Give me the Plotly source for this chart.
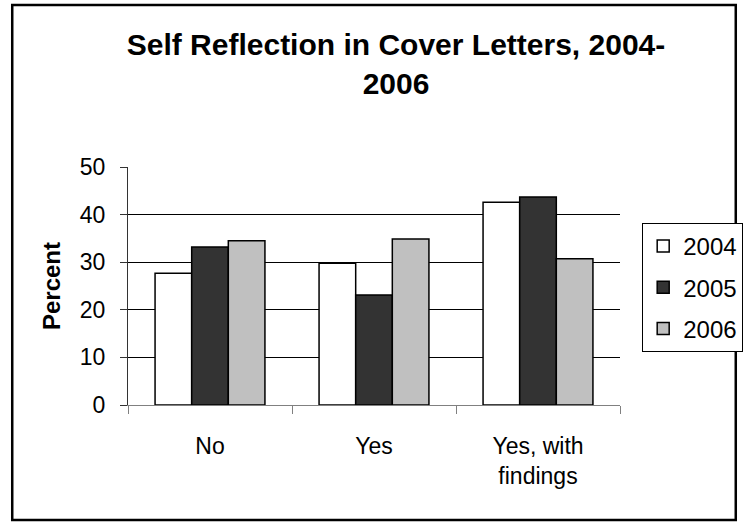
import plotly.graph_objects as go

# Data
categories = ["No", "Yes", "Yes, with findings"]
tick_labels = ["No", "Yes", "Yes, with<br>findings"]
years = ["2004", "2005", "2006"]
pct_2004 = [27.7, 29.8, 42.6]
pct_2005 = [33.2, 23.1, 43.7]
pct_2006 = [34.5, 34.9, 30.7]
y_ticks = [0, 10, 20, 30, 40, 50]

series = [pct_2004, pct_2005, pct_2006]
fills = ["#FFFFFF", "#333333", "#C0C0C0"]

FONT = "Liberation Sans, Arial, sans-serif"
W, H = 755, 523
L, R, T, B = 128, 117, 167, 118
PW, PH = W - L - R, H - T - B

fig = go.Figure()
for name, vals, col in zip(years, series, fills):
    fig.add_trace(go.Bar(
        x=categories, y=vals, name=name, legendgroup=name,
        marker=dict(color=col, line=dict(color="#000000", width=1.5)),
    ))

def px_x(px):
    return (px - L) / PW

def px_y(py):
    return (H - B - py) / PH

fig.update_layout(
    width=W, height=H,
    margin=dict(l=L, r=R, t=T, b=B),
    paper_bgcolor="white", plot_bgcolor="white",
    font=dict(family=FONT, color="#000000", size=23),
    barmode="group", bargap=0.33, bargroupgap=0,
    title=dict(
        text="<b>Self Reflection in Cover Letters, 2004-<br>2006</b>",
        x=396 / W, xanchor="center", xref="container",
        y=1 - 55 / H, yanchor="top", yref="container",
        font=dict(size=30, family=FONT, color="#000000"),
    ),
    xaxis=dict(
        categoryorder="array", categoryarray=categories,
        tickmode="array", tickvals=categories, ticktext=tick_labels,
        tickson="boundaries", ticks="outside", ticklen=8, tickcolor="#808080",
        showline=True, linecolor="#808080", linewidth=1,
        showgrid=False, zeroline=False,
        ticklabelstandoff=20,
        tickfont=dict(size=23),
    ),
    yaxis=dict(
        range=[0, 50], tickvals=y_ticks,
        ticks="outside", ticklen=7, tickcolor="#333333",
        showline=True, linecolor="#333333", linewidth=1,
        showgrid=True, gridcolor="#000000", gridwidth=1,
        zeroline=False, ticklabelstandoff=10,
        tickfont=dict(size=23),
        title=dict(text="<b>Percent</b>", font=dict(size=24), standoff=12),
    ),
    legend=dict(
        x=px_x(661), y=px_y(223), xanchor="left", yanchor="top",
        bgcolor="white", bordercolor="#000000", borderwidth=1,
        font=dict(size=24), tracegroupgap=7, traceorder="grouped",
        itemwidth=30,
    ),
    shapes=[dict(
        type="rect", xref="paper", yref="paper",
        x0=px_x(8), x1=px_x(758), y0=px_y(520), y1=px_y(5),
        line=dict(color="#000000", width=2.5), fillcolor="rgba(0,0,0,0)",
        layer="below",
    )],
)

fig.write_html("out.html")
